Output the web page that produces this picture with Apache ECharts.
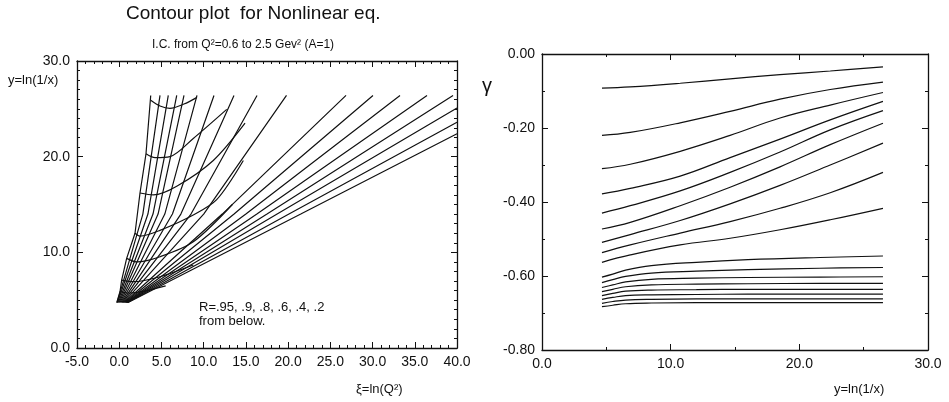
<!DOCTYPE html>
<html>
<head>
<meta charset="utf-8">
<title>Contour plot for Nonlinear eq.</title>
<script src="https://cdn.jsdelivr.net/npm/echarts@6/dist/echarts.min.js"></script>
<style>
  html, body { margin: 0; padding: 0; background: #fff; }
  #chart { width: 949px; height: 402px; }
</style>
</head>
<body>
<div id="chart"></div>
<script>
// left panel: rays (xi, y) from the initial condition line
var rays = [
  [[-0.3, 4.75], [0.09, 5.88], [0.29, 7.1], [0.88, 9.37], [1.87, 12.0], [2.46, 16.2], [3.17, 20.3], [3.73, 26.4]],
  [[-0.25, 4.75], [2.8, 14.0], [4.83, 26.4]],
  [[-0.2, 4.75], [3.4, 14.0], [5.81, 26.4]],
  [[-0.1, 4.75], [4.0, 14.0], [6.81, 26.4]],
  [[0.0, 4.75], [4.6, 14.0], [7.67, 26.4]],
  [[0.1, 4.75], [5.4, 14.0], [9.21, 26.4]],
  [[0.2, 4.75], [6.3, 14.0], [11.22, 26.4]],
  [[0.3, 4.75], [7.3, 14.0], [13.59, 26.4]],
  [[0.4, 4.75], [8.5, 14.0], [16.32, 26.4]],
  [[0.5, 4.75], [10.0, 14.0], [19.81, 26.4]],
  [[0.6, 4.75], [12.2, 14.0], [26.86, 26.4]],
  [[0.7, 4.75], [13.6, 14.0], [30.05, 26.4]],
  [[0.8, 4.75], [15.0, 14.0], [33.25, 26.4]],
  [[0.85, 4.75], [16.3, 14.0], [36.45, 26.4]],
  [[0.9, 4.75], [17.5, 14.0], [39.53, 26.4]],
  [[0.95, 4.75], [18.7, 14.0], [40.0, 25.08]],
  [[1.0, 4.75], [20.1, 14.0], [40.0, 23.6]],
  [[1.05, 4.75], [21.5, 14.0], [40.0, 22.4]]
];

// left panel: contour curves crossing the rays
var contours = [
  [[3.73, 25.9], [4.83, 25.3], [6.0, 25.05], [7.67, 25.5], [9.21, 26.2]],
  [[3.17, 20.3], [4.24, 19.9], [6.0, 20.0], [8.77, 21.9], [12.73, 24.94]],
  [[2.46, 16.2], [4.04, 16.0], [6.81, 16.9], [11.14, 19.6], [14.9, 23.5]],
  [[1.87, 12.0], [2.46, 11.7], [4.83, 12.3], [8.77, 13.9], [11.54, 15.5], [14.7, 19.6]],
  [[0.88, 9.37], [2.07, 9.0], [4.83, 9.54], [8.77, 11.1], [13.4, 15.0]],
  [[0.29, 7.1], [1.67, 6.93], [4.83, 7.45], [8.77, 8.67]],
  [[0.09, 5.88], [1.2, 5.75], [3.0, 5.95], [5.5, 6.5]]
];

// right panel: gamma vs y=ln(1/x)
var gammaX = [4.66, 6.86, 10.74, 14.62, 18.5, 22.4, 26.5];
var gammaRising = [
  [-0.092, -0.089, -0.079, -0.067, -0.056, -0.046, -0.035],
  [-0.220, -0.212, -0.186, -0.155, -0.122, -0.096, -0.076],
  [-0.310, -0.298, -0.263, -0.220, -0.173, -0.138, -0.104],
  [-0.378, -0.363, -0.330, -0.280, -0.230, -0.178, -0.128],
  [-0.430, -0.410, -0.370, -0.320, -0.265, -0.205, -0.153],
  [-0.473, -0.455, -0.410, -0.360, -0.305, -0.245, -0.187],
  [-0.509, -0.488, -0.450, -0.405, -0.355, -0.300, -0.241],
  [-0.537, -0.516, -0.484, -0.453, -0.417, -0.375, -0.320],
  [-0.563, -0.543, -0.516, -0.498, -0.475, -0.448, -0.417]
];
var flatX = [4.66, 5.5, 6.5, 8.5, 12.0, 16.0, 21.6, 26.5];
var gammaFlat = [
  [-0.603, -0.595, -0.584, -0.572, -0.563, -0.556, -0.550, -0.546],
  [-0.618, -0.610, -0.601, -0.592, -0.587, -0.583, -0.579, -0.577],
  [-0.631, -0.624, -0.616, -0.609, -0.606, -0.604, -0.603, -0.602],
  [-0.642, -0.636, -0.629, -0.624, -0.622, -0.621, -0.620, -0.620],
  [-0.653, -0.647, -0.641, -0.638, -0.637, -0.636, -0.636, -0.636],
  [-0.663, -0.658, -0.653, -0.651, -0.650, -0.649, -0.649, -0.649],
  [-0.674, -0.669, -0.665, -0.663, -0.662, -0.662, -0.662, -0.662],
  [-0.683, -0.679, -0.675, -0.673, -0.672, -0.672, -0.672, -0.672]
];

var font = 'Liberation Sans, Arial, sans-serif';
var ink = '#111';

function axis(opts) {
  var a = {
    type: 'value',
    gridIndex: opts.grid,
    position: opts.position,
    min: opts.min,
    max: opts.max,
    interval: opts.interval,
    splitLine: { show: false },
    axisLine: { show: true, onZero: false, lineStyle: { color: ink, width: 1.3 } },
    axisTick: { show: true, inside: true, length: 6, lineStyle: { color: ink } },
    minorTick: { show: true, splitNumber: opts.minor, length: 3, lineStyle: { color: ink } },
    axisLabel: {
      show: !!opts.labels,
      color: ink,
      fontFamily: font,
      fontSize: 14,
      margin: 7,
      formatter: function (v) { return v.toFixed(opts.digits) }
    }
  }
  return a
}

var series = []
for (var i = 0; i < rays.length; i++) {
  series.push({
    type: 'line', xAxisIndex: 0, yAxisIndex: 0, data: rays[i],
    showSymbol: false, silent: true, lineStyle: { color: ink, width: 1.2 }
  })
}
for (var i = 0; i < contours.length; i++) {
  series.push({
    type: 'line', xAxisIndex: 0, yAxisIndex: 0, data: contours[i], smooth: 0.3,
    showSymbol: false, silent: true, lineStyle: { color: ink, width: 1.2 }
  })
}
for (var i = 0; i < gammaRising.length; i++) {
  var pts = []
  for (var j = 0; j < gammaX.length; j++) pts.push([gammaX[j], gammaRising[i][j]])
  series.push({
    type: 'line', xAxisIndex: 2, yAxisIndex: 2, data: pts, smooth: 0.4,
    showSymbol: false, silent: true, lineStyle: { color: ink, width: 1.2 }
  })
}
for (var i = 0; i < gammaFlat.length; i++) {
  var pts = []
  for (var j = 0; j < flatX.length; j++) pts.push([flatX[j], gammaFlat[i][j]])
  series.push({
    type: 'line', xAxisIndex: 2, yAxisIndex: 2, data: pts, smooth: 0.4,
    showSymbol: false, silent: true, lineStyle: { color: ink, width: 1.2 }
  })
}

function label(text, x, y, size, align) {
  return {
    type: 'text', left: x, top: y,
    style: { text: text, fill: ink, font: size + 'px ' + font, textAlign: align || 'left' }
  }
}

var chart = echarts.init(document.getElementById('chart'))
chart.setOption({
  animation: false,
  backgroundColor: '#fff',
  grid: [
    { left: 77, top: 61, width: 380, height: 287 },
    { left: 542, top: 54, width: 386, height: 296 }
  ],
  xAxis: [
    axis({ grid: 0, position: 'bottom', min: -5, max: 40, interval: 5, minor: 5, labels: true, digits: 1 }),
    axis({ grid: 0, position: 'top', min: -5, max: 40, interval: 5, minor: 5 }),
    axis({ grid: 1, position: 'bottom', min: 0, max: 30, interval: 10, minor: 2, labels: true, digits: 1 }),
    axis({ grid: 1, position: 'top', min: 0, max: 30, interval: 10, minor: 2 })
  ],
  yAxis: [
    axis({ grid: 0, position: 'left', min: 0, max: 30, interval: 10, minor: 10, labels: true, digits: 1 }),
    axis({ grid: 0, position: 'right', min: 0, max: 30, interval: 10, minor: 10 }),
    axis({ grid: 1, position: 'left', min: -0.8, max: 0, interval: 0.2, minor: 2, labels: true, digits: 2 }),
    axis({ grid: 1, position: 'right', min: -0.8, max: 0, interval: 0.2, minor: 2 })
  ],
  series: series,
  graphic: [
    label('Contour plot  for Nonlinear eq.', 126, 4, 19),
    label('I.C. from Q\u00b2=0.6 to 2.5 Gev\u00b2 (A=1)', 152, 39, 12),
    label('y=ln(1/x)', 8, 74, 13),
    label('\u03be=ln(Q\u00b2)', 356, 383, 13),
    label('R=.95, .9, .8, .6, .4, .2', 199, 301, 13),
    label('from below.', 199, 315, 13),
    label('\u03b3', 482, 76, 20),
    label('y=ln(1/x)', 834, 383, 13)
  ]
})
</script>
</body>
</html>
